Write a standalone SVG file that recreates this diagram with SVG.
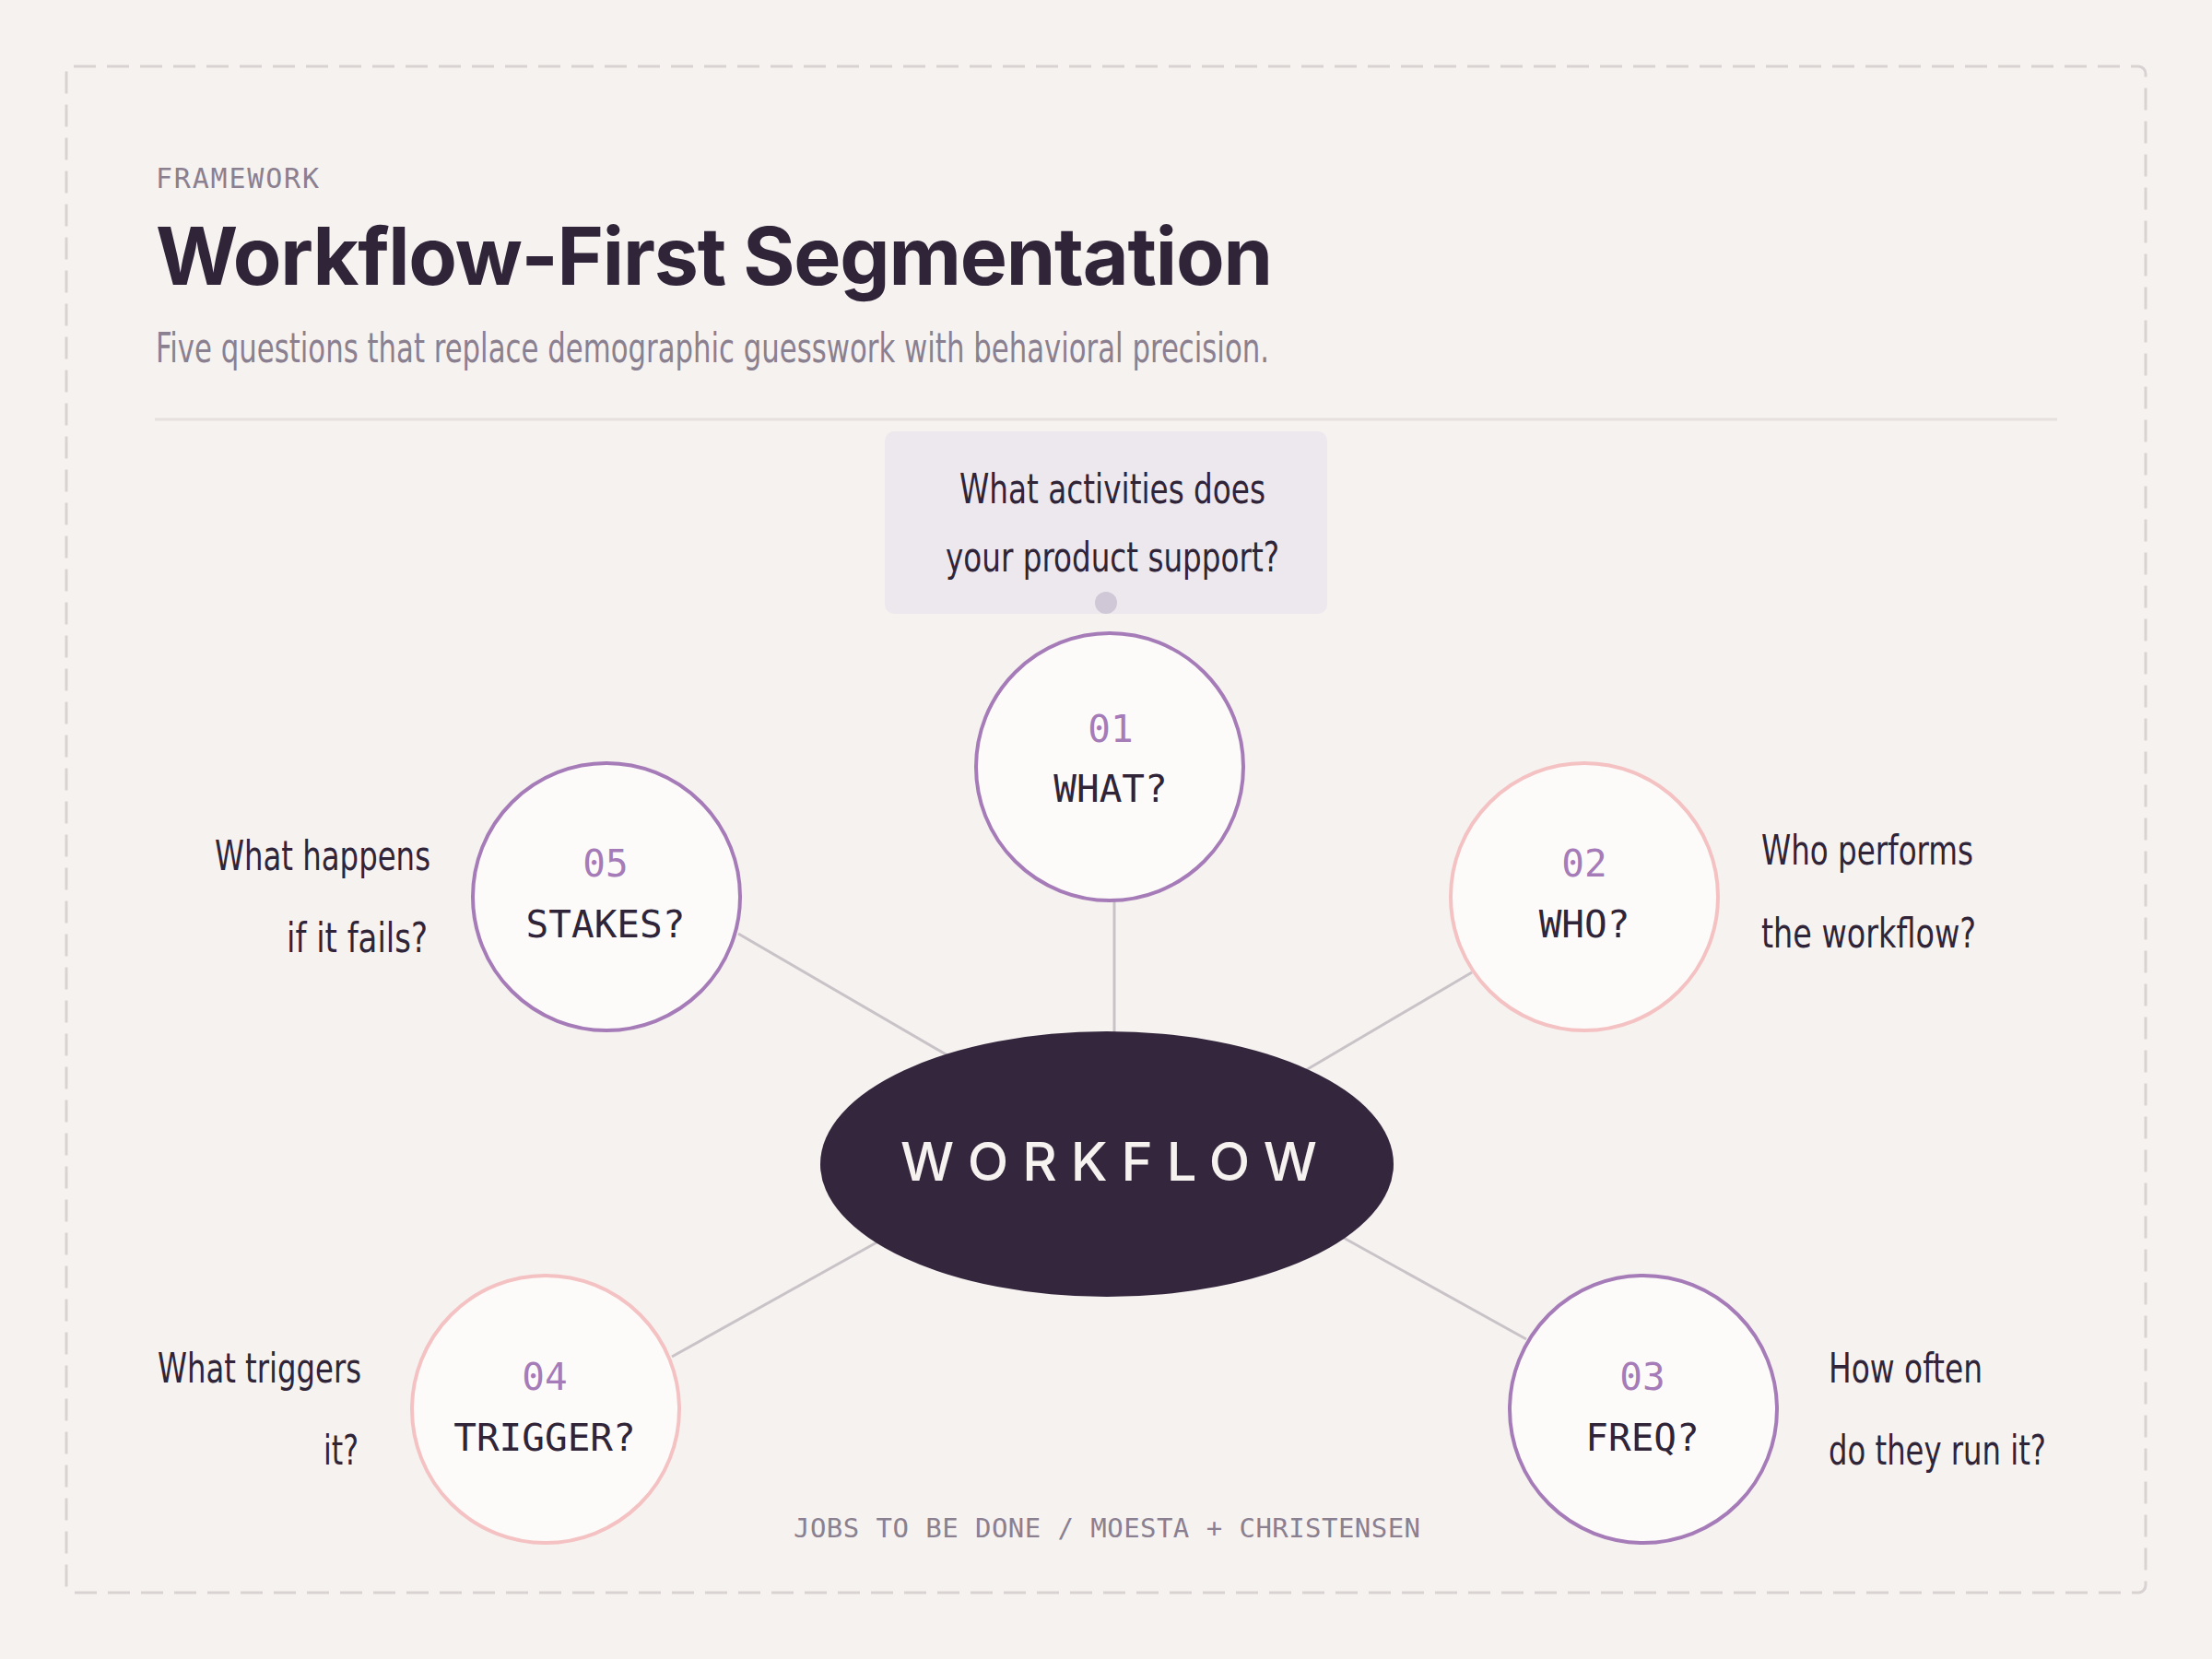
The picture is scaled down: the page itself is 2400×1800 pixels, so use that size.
<svg xmlns="http://www.w3.org/2000/svg" width="2400" height="1800" viewBox="0 0 2400 1800">
<style>
.mono{font-family:"DejaVu Sans Mono","Liberation Mono",monospace}
.narrow{font-family:"Liberation Sans Narrow","DejaVu Sans Condensed","Noto Sans",sans-serif;font-stretch:condensed;fill:#2f2438;font-size:45px}
.num{font-size:41px;fill:#a57bb8;text-anchor:middle}
.lbl{font-size:41px;fill:#2f2438;text-anchor:middle}
.node{fill:#fdfbfa;stroke-width:4}
.purple{stroke:#a57bb8}
.pink{stroke:#f4c2c2}
.conn{stroke:#c9c3c8;stroke-width:3;fill:none}
</style>
<rect width="2400" height="1800" fill="#f6f2f0"/>
<rect x="72" y="72" width="2256" height="1656" rx="8" fill="none" stroke="#d9d2d2" stroke-width="3" stroke-dasharray="24 12"/>
<text x="169" y="204" class="mono" font-size="30" fill="#8a8090" textLength="177">FRAMEWORK</text>
<text x="169" y="309" font-family="Inter,'Liberation Sans',sans-serif" font-weight="700" font-size="86" fill="#2f2438" textLength="1212">Workflow-First Segmentation</text>
<text x="169" y="393" class="narrow" fill="#8a8090" style="fill:#8a8090" textLength="1208" lengthAdjust="spacingAndGlyphs">Five questions that replace demographic guesswork with behavioral precision.</text>
<line x1="168" y1="455" x2="2232" y2="455" stroke="#e6e0de" stroke-width="3"/>

<g id="connectors">
<line class="conn" x1="1209" y1="978" x2="1209" y2="1125"/>
<line class="conn" x1="1597" y1="1055" x2="1417" y2="1161"/>
<line class="conn" x1="1656" y1="1453" x2="1456" y2="1342"/>
<line class="conn" x1="729" y1="1472" x2="953" y2="1347"/>
<line class="conn" x1="801" y1="1013" x2="1028" y2="1145"/>
</g>

<g id="callout">
<rect x="960" y="468" width="480" height="198" rx="10" fill="#ede8ee"/>
<text x="1207" y="546" class="narrow" text-anchor="middle" textLength="332" lengthAdjust="spacingAndGlyphs">What activities does</text>
<text x="1207" y="620" class="narrow" text-anchor="middle" textLength="362" lengthAdjust="spacingAndGlyphs">your product support?</text>
<circle cx="1200" cy="654" r="12" fill="#d0c8d6"/>
</g>

<g id="center">
<ellipse cx="1201" cy="1263" rx="311" ry="144" fill="#33263d"/>
<text x="1203" y="1281" font-family="Inter,'Liberation Sans',sans-serif" font-weight="500" font-size="58" fill="#f6f2f0" text-anchor="middle" textLength="452" lengthAdjust="spacing">WORKFLOW</text>
</g>

<g id="node-01">
<circle class="node purple" cx="1204" cy="832" r="145"/>
<text class="mono num" x="1205" y="805">01</text>
<text class="mono lbl" x="1205" y="870">WHAT?</text>
</g>

<g id="node-02">
<circle class="node pink" cx="1719" cy="973" r="145"/>
<text class="mono num" x="1719" y="951">02</text>
<text class="mono lbl" x="1719" y="1017">WHO?</text>
<text class="narrow" x="1911" y="938" textLength="230" lengthAdjust="spacingAndGlyphs">Who performs</text>
<text class="narrow" x="1911" y="1028" textLength="233" lengthAdjust="spacingAndGlyphs">the workflow?</text>
</g>

<g id="node-03">
<circle class="node purple" cx="1783" cy="1529" r="145"/>
<text class="mono num" x="1782" y="1508">03</text>
<text class="mono lbl" x="1782" y="1574">FREQ?</text>
<text class="narrow" x="1984" y="1500" textLength="167" lengthAdjust="spacingAndGlyphs">How often</text>
<text class="narrow" x="1984" y="1589" textLength="236" lengthAdjust="spacingAndGlyphs">do they run it?</text>
</g>

<g id="node-04">
<circle class="node pink" cx="592" cy="1529" r="145"/>
<text class="mono num" x="591" y="1508">04</text>
<text class="mono lbl" x="591" y="1574">TRIGGER?</text>
<text class="narrow" x="392" y="1500" text-anchor="end" textLength="221" lengthAdjust="spacingAndGlyphs">What triggers</text>
<text class="narrow" x="389" y="1589" text-anchor="end" textLength="38" lengthAdjust="spacingAndGlyphs">it?</text>
</g>

<g id="node-05">
<circle class="node purple" cx="658" cy="973" r="145"/>
<text class="mono num" x="657" y="951">05</text>
<text class="mono lbl" x="657" y="1017">STAKES?</text>
<text class="narrow" x="467" y="944" text-anchor="end" textLength="234" lengthAdjust="spacingAndGlyphs">What happens</text>
<text class="narrow" x="464" y="1033" text-anchor="end" textLength="153" lengthAdjust="spacingAndGlyphs">if it fails?</text>
</g>

<text x="1201" y="1668" class="mono" font-size="29" fill="#8a8090" text-anchor="middle" textLength="680">JOBS TO BE DONE / MOESTA + CHRISTENSEN</text>
</svg>
